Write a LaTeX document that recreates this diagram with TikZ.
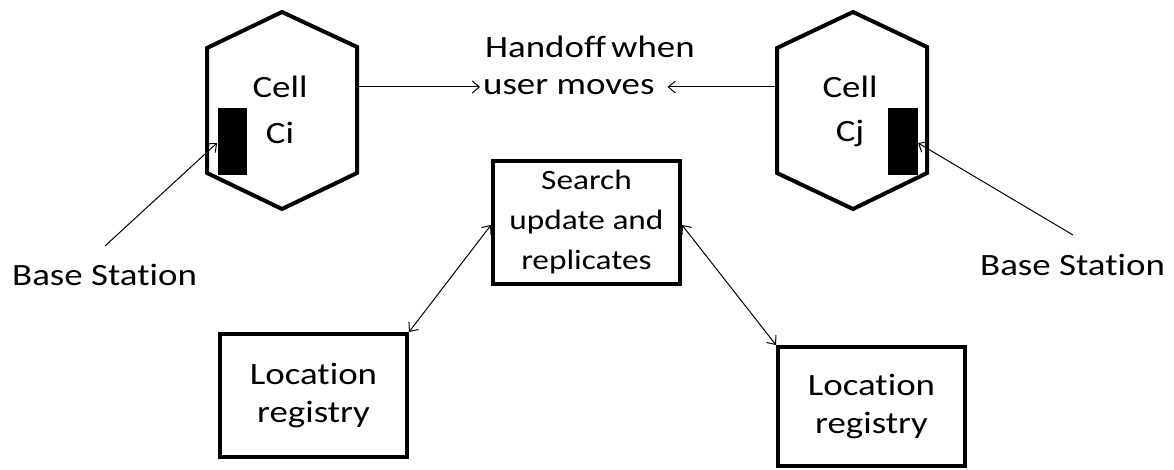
\documentclass[tikz,border=0pt]{standalone}
\usepackage{fontspec}
\setmainfont[FakeStretch=1.19, Ligatures=NoCommon]{Carlito}
\usetikzlibrary{arrows.meta,calc}
\tikzset{
  cellhex/.style={line width=4pt, line join=miter},
  station/.style={fill=black, draw=black},
  box/.style={draw, line width=4pt, inner sep=0pt},
  txt/.style={inner sep=0pt, align=center, font=\fontsize{31}{38}\selectfont},
  link/.style={line width=1pt, -{Straight Barb[length=7pt,width=12pt]}},
  biglink/.style={line width=1pt, {Straight Barb[length=7pt,width=12pt]}-{Straight Barb[length=7pt,width=12pt]}}
}
\begin{document}
\begin{tikzpicture}[x=1pt,y=-1pt]
\useasboundingbox (0,0) rectangle (1174,470);

% cell Ci
\draw[cellhex] (282,12) -- (357,47) -- (357,173) -- (282,209) -- (207,173) -- (207,48) -- cycle;
\node[station, minimum width=28pt, minimum height=66pt, inner sep=0pt] (bsi) at (232,141) {};
\node[txt] (celli) at (280,87) {Cell};
\node[txt] (ci) at (280,133) {Ci};
\coordinate (ciR) at (357,87);

% cell Cj
\draw[cellhex] (853,12) -- (927,47) -- (927,173) -- (853,209) -- (777,173) -- (777,48) -- cycle;
\node[station, minimum width=29pt, minimum height=66pt, inner sep=0pt] (bsj) at (902.5,141) {};
\node[txt] (cellj) at (850,87) {Cell};
\node[txt] (cj) at (850,133) {Cj};
\coordinate (cjL) at (777,87);

% handoff label
\node[txt, anchor=west] (handoff) at (485,47) {Handoff\hspace{5pt}when};
\node[txt, anchor=west] (moves) at (483,87) {user moves};
\draw[link] (ciR) -- ($(ciR -| moves.west)+(-3,0)$);
\draw[link] (cjL) -- ($(cjL -| moves.east)+(13,0)$);

% base station labels
\node[txt, anchor=west] (bsli) at (12,275) {Base Station};
\node[txt, anchor=west] (bslj) at (980,265) {Base Station};
\coordinate (bsiS) at (105,246);
\coordinate (bsjS) at (1073,235);
\draw[link] (bsiS) -- (217,143);
\draw[link] (bsjS) -- (918,143);

% search node
\node[box, minimum width=187pt, minimum height=123pt, align=center,
      font=\fontsize{28}{40}\selectfont] (search) at (586.5,222.5) {Search\\update and\\replicates};

% location registries
\node[box, minimum width=187pt, minimum height=123pt, txt] (regi) at (313.5,395.5) {Location\\registry};
\node[box, minimum width=187pt, minimum height=119pt, txt] (regj) at (871.5,406.5) {Location\\registry};

\draw[biglink] (search.west |- 0,225) -- (regi.north east);
\draw[biglink] (search.east |- 0,225) -- (regj.north west);
\end{tikzpicture}
\end{document}
